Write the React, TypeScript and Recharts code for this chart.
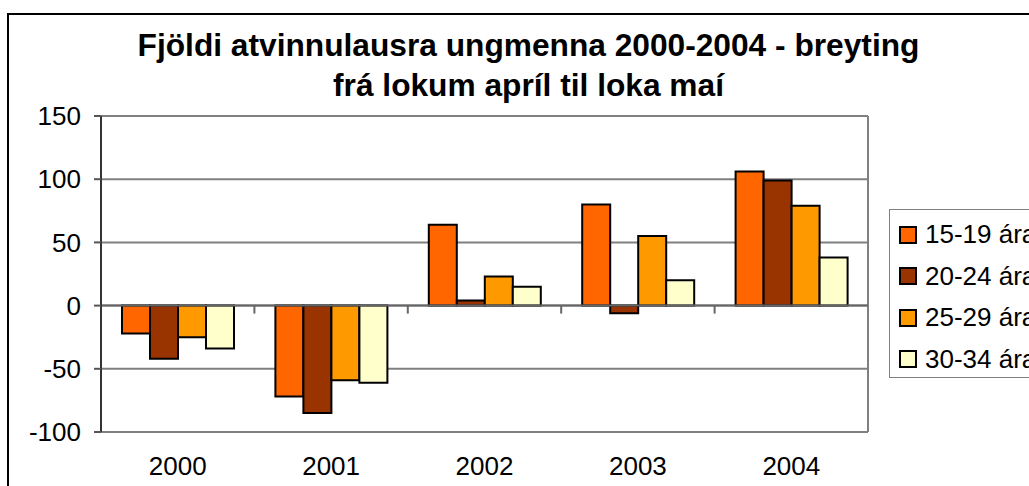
import * as RC from "recharts";
import { BarChart, Bar, XAxis, YAxis, CartesianGrid, ReferenceLine } from "recharts";

const years = ["2000", "2001", "2002", "2003", "2004"];
const age1519 = [-22, -72, 64, 80, 106];
const age2024 = [-42, -85, 4, -6, 99];
const age2529 = [-25, -59, 23, 55, 79];
const age3034 = [-34, -61, 15, 20, 38];
const yTicks = [-100, -50, 0, 50, 100, 150];

const series = [
  { key: "a1519", name: "15-19 ára", color: "#FF6600" },
  { key: "a2024", name: "20-24 ára", color: "#993300" },
  { key: "a2529", name: "25-29 ára", color: "#FF9900" },
  { key: "a3034", name: "30-34 ára", color: "#FFFFCC" },
];

const data = years.map((y, i) => ({
  year: y,
  a1519: age1519[i],
  a2024: age2024[i],
  a2529: age2529[i],
  a3034: age3034[i],
}));

const FONT = '"Liberation Sans", Arial, sans-serif';
const yMin = yTicks[0];
const yMax = yTicks[yTicks.length - 1];

const W = 1100;
const H = 486;
const M = { top: 116, right: 232, left: 41, bottom: 24 };
const Y_AXIS_W = 60;
const X_AXIS_H = 30;

const usePlot: () => any = (RC as any).usePlotArea ?? (() => undefined);

// category-edge ticks on the zero line + right border of the plot area
function EdgeMarks() {
  const area = usePlot() ?? {
    x: M.left + Y_AXIS_W,
    y: M.top,
    width: W - M.left - Y_AXIS_W - M.right,
    height: H - M.top - M.bottom - X_AXIS_H,
  };
  const zeroY = area.y + (area.height * yMax) / (yMax - yMin);
  const step = area.width / years.length;
  return (
    <g>
      {years.slice(1).map((y, i) => {
        const x = area.x + step * (i + 1);
        return <line key={y} x1={x} x2={x} y1={zeroY} y2={zeroY + 8} stroke="#666" strokeWidth={2} />;
      })}
      <line
        x1={area.x + area.width}
        x2={area.x + area.width}
        y1={area.y}
        y2={area.y + area.height}
        stroke="#808080"
        strokeWidth={2}
      />
    </g>
  );
}

// legend sits half outside the window, like the original export
function LegendBox() {
  return (
    <div
      style={{
        position: "absolute",
        left: 889,
        top: 209,
        border: "1px solid #808080",
        width: 160,
        height: 169,
        boxSizing: "border-box",
        paddingTop: 4,
        fontFamily: FONT,
        fontSize: 26,
        background: "#fff",
      }}
    >
      {series.map((s) => (
        <div key={s.key} style={{ display: "flex", alignItems: "center", height: 41.5, paddingLeft: 9, whiteSpace: "nowrap" }}>
          <span
            style={{
              display: "inline-block",
              width: 14,
              height: 14,
              border: "2px solid #000",
              background: s.color,
              marginRight: 8,
              flex: "none",
            }}
          />
          <span style={{ color: "#000" }}>{s.name}</span>
        </div>
      ))}
    </div>
  );
}

export default function App() {
  return (
    <div style={{ position: "absolute", left: 0, top: 0, width: 1029, height: 486, overflow: "hidden", background: "#fff" }}>
      <div
        style={{
          position: "absolute",
          left: 7,
          top: 13,
          width: 1200,
          height: 700,
          border: "2px solid #000",
          boxSizing: "border-box",
        }}
      />
      <div
        style={{
          position: "absolute",
          left: 0,
          top: 25,
          width: 1057,
          textAlign: "center",
          fontFamily: FONT,
          fontWeight: "bold",
          fontSize: 31.7,
          lineHeight: "40px",
          color: "#000",
        }}
      >
        Fjöldi atvinnulausra ungmenna 2000-2004 - breyting
        <br />
        frá lokum apríl til loka maí
      </div>
      <div style={{ position: "absolute", left: 0, top: 0 }}>
        <BarChart width={W} height={H} data={data} margin={M} barCategoryGap={21} barGap={0}>
          <CartesianGrid vertical={false} stroke="#808080" strokeWidth={2} />
          <XAxis
            dataKey="year"
            axisLine={false}
            tickLine={false}
            tickSize={0}
            tickMargin={25}
            height={X_AXIS_H}
            tick={{ fill: "#000", fontSize: 26, fontFamily: FONT }}
          />
          <YAxis
            domain={[yMin, yMax]}
            ticks={yTicks}
            width={Y_AXIS_W}
            axisLine={{ stroke: "#333", strokeWidth: 2 }}
            tickLine={{ stroke: "#555", strokeWidth: 2 }}
            tickSize={7}
            tickMargin={13}
            tick={{ fill: "#000", fontSize: 26, fontFamily: FONT }}
            interval={0}
          />
          {series.map((s) => (
            <Bar
              key={s.key}
              dataKey={s.key}
              name={s.name}
              fill={s.color}
              stroke="#000"
              strokeWidth={2}
              isAnimationActive={false}
            />
          ))}
          <ReferenceLine y={0} stroke="#666" strokeWidth={2} />
          <EdgeMarks />
        </BarChart>
      </div>
      <LegendBox />
    </div>
  );
}
